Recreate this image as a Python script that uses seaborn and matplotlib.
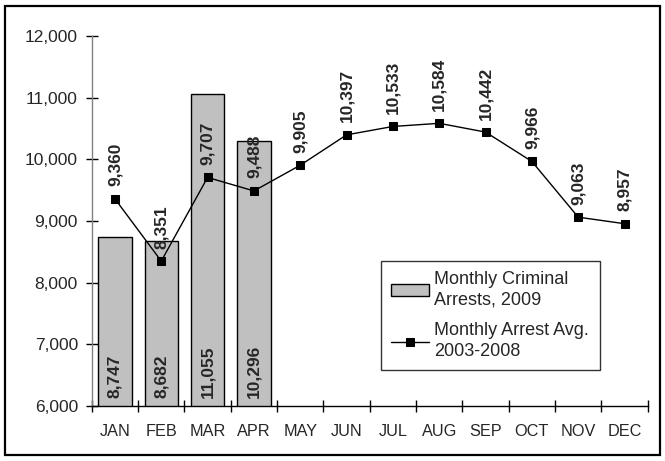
import matplotlib.pyplot as plt
import seaborn as sns
import pandas as pd
import numpy as np
from matplotlib.patches import Rectangle

# 数据
months = ['JAN', 'FEB', 'MAR', 'APR', 'MAY', 'JUN',
          'JUL', 'AUG', 'SEP', 'OCT', 'NOV', 'DEC']
arrests_2009 = [8747, 8682, 11055, 10296]
avg_2003_2008 = [9360, 8351, 9707, 9488, 9905, 10397,
                 10533, 10584, 10442, 9966, 9063, 8957]
yticks = [6000, 7000, 8000, 9000, 10000, 11000, 12000]

sns.set_style('white')
plt.rcParams['font.family'] = ['Liberation Sans', 'DejaVu Sans']

bar_df = pd.DataFrame({'month': months[:len(arrests_2009)], 'arrests': arrests_2009})
line_df = pd.DataFrame({'month': months, 'avg': avg_2003_2008})

fig = plt.figure(figsize=(6.65, 4.61), dpi=100)
ax = fig.add_axes([0.138, 0.119, 0.836, 0.803])

sns.barplot(data=bar_df, x='month', y='arrests', order=months, ax=ax,
            color='#C0C0C0', edgecolor='black', linewidth=1, width=0.72,
            saturation=1, label='Monthly Criminal\nArrests, 2009')
sns.pointplot(data=line_df, x='month', y='avg', order=months, ax=ax,
              color='black', marker='s', markersize=6, linewidth=1,
              label='Monthly Arrest Avg.\n2003-2008')

# 数值标签
for i, v in enumerate(avg_2003_2008):
    ax.annotate(f'{v:,}', (i, v), xytext=(0, 9), textcoords='offset points',
                rotation=90, ha='center', va='bottom', fontsize=12.5, fontweight='bold')
for i, v in enumerate(arrests_2009):
    ax.annotate(f'{v:,}', (i, 6000), xytext=(0, 6), textcoords='offset points',
                rotation=90, ha='center', va='bottom', fontsize=12.5, fontweight='bold')

ax.set_ylim(6000, 12000)
ax.set_xlim(-0.5, 11.5)
ax.set_yticks(yticks)
ax.set_yticklabels([f'{t:,}' for t in yticks], fontsize=12.5)
ax.set_xticks(range(12))
ax.set_xticklabels(months, fontsize=11.7)
ax.set_xticks(np.arange(-0.5, 12, 1), minor=True)
ax.tick_params(axis='x', which='major', bottom=False, length=0, pad=13)
ax.tick_params(axis='x', which='minor', bottom=True, length=8, width=1,
               direction='inout', color='black')
ax.tick_params(axis='y', left=True, length=8, width=1, direction='inout',
               color='black', pad=6)
ax.set_xlabel('')
ax.set_ylabel('')

for s in ['top', 'right']:
    ax.spines[s].set_visible(False)
ax.spines['left'].set_color('#808080')
ax.spines['left'].set_linewidth(1)
ax.spines['bottom'].set_color('black')
ax.spines['bottom'].set_linewidth(1)

handles, labels = ax.get_legend_handles_labels()
order = [labels.index('Monthly Criminal\nArrests, 2009'),
         labels.index('Monthly Arrest Avg.\n2003-2008')]
leg = ax.legend([handles[k] for k in order], [labels[k] for k in order],
                loc='lower left', bbox_to_anchor=(0.52, 0.097, 0.395, 0.29),
                mode='expand', frameon=True, fancybox=False, fontsize=13,
                handlelength=2.1, handleheight=0.6, handletextpad=0.3,
                borderpad=0.55, labelspacing=0.75, borderaxespad=0)
leg.get_frame().set_edgecolor('black')
leg.get_frame().set_linewidth(1)
for t in leg.get_texts():
    t.set_linespacing(1.3)

# 外框
fig.patches.append(Rectangle((0.008, 0.012), 0.985, 0.975, transform=fig.transFigure,
                             fill=False, edgecolor='black', linewidth=1.6))

fig.savefig('out.png', dpi=100)
